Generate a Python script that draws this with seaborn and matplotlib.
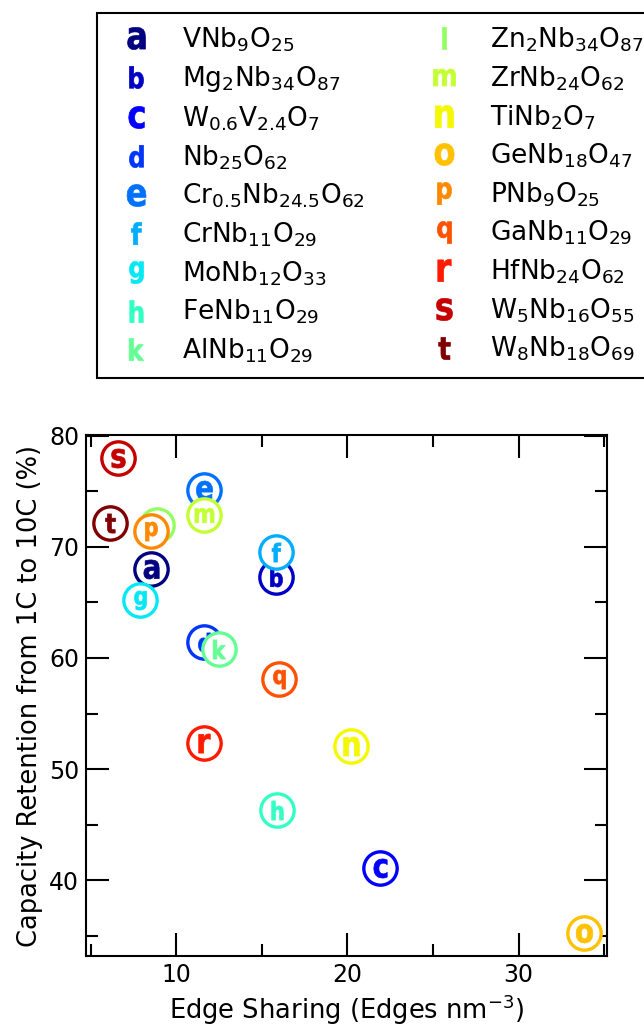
import matplotlib
matplotlib.use("Agg")
import matplotlib.pyplot as plt
from matplotlib.lines import Line2D
from matplotlib.path import Path
from matplotlib.ticker import MultipleLocator
from matplotlib.textpath import TextPath
from matplotlib.font_manager import FontProperties
from matplotlib.transforms import Affine2D
import numpy as np
import seaborn as sns

# Niobium-oxide based anode materials: edge sharing vs. rate capability
letters = ["a", "b", "c", "d", "e", "f", "g", "h", "k",
           "l", "m", "n", "o", "p", "q", "r", "s", "t"]
compounds = [
    r"VNb$_{9}$O$_{25}$",
    r"Mg$_{2}$Nb$_{34}$O$_{87}$",
    r"W$_{0.6}$V$_{2.4}$O$_{7}$",
    r"Nb$_{25}$O$_{62}$",
    r"Cr$_{0.5}$Nb$_{24.5}$O$_{62}$",
    r"CrNb$_{11}$O$_{29}$",
    r"MoNb$_{12}$O$_{33}$",
    r"FeNb$_{11}$O$_{29}$",
    r"AlNb$_{11}$O$_{29}$",
    r"Zn$_{2}$Nb$_{34}$O$_{87}$",
    r"ZrNb$_{24}$O$_{62}$",
    r"TiNb$_{2}$O$_{7}$",
    r"GeNb$_{18}$O$_{47}$",
    r"PNb$_{9}$O$_{25}$",
    r"GaNb$_{11}$O$_{29}$",
    r"HfNb$_{24}$O$_{62}$",
    r"W$_{5}$Nb$_{16}$O$_{55}$",
    r"W$_{8}$Nb$_{18}$O$_{69}$",
]
edge_sharing = [8.5, 15.8, 21.9, 11.6, 11.6, 15.8, 7.9, 15.9, 12.5,
                8.85, 11.6, 20.2, 33.8, 8.5, 16.0, 11.6, 6.6, 6.1]
capacity_retention = [68.0, 67.3, 41.1, 61.4, 75.1, 69.5, 65.2, 46.3, 60.8,
                      72.0, 72.9, 52.1, 35.3, 71.4, 58.1, 52.4, 78.0, 72.1]

sns.set_style("white")
plt.rcParams["font.family"] = ["DejaVu Sans"]
plt.rcParams["mathtext.default"] = "regular"
for key in ("text.color", "axes.labelcolor", "xtick.color", "ytick.color"):
    plt.rcParams[key] = "black"

colors = plt.cm.jet(np.linspace(0, 1, len(letters)))

bold = FontProperties(family="DejaVu Sans", weight="bold")


def letter_marker(ch, stretch=1.2):
    """Bold glyph outline as flat polygons, slightly condensed and centred."""
    tp = TextPath((0, 0), ch, size=1, prop=bold)
    polys = tp.to_polygons(closed_only=True)
    allv = np.vstack(polys)
    cx = (allv[:, 0].min() + allv[:, 0].max()) / 2
    cy = (allv[:, 1].min() + allv[:, 1].max()) / 2
    path = Path.make_compound_path(*[Path(p, closed=True) for p in polys])
    return path.transformed(Affine2D().translate(-cx, -cy).scale(1.0, stretch))


markers = {ch: letter_marker(ch) for ch in letters}

fig = plt.figure(figsize=(6.44, 10.26), dpi=100)
ax = fig.add_axes([0.1335, 0.0682, 0.809, 0.5078])

for i, (lt, xv, yv) in enumerate(zip(letters, edge_sharing, capacity_retention)):
    c = colors[i]
    sns.scatterplot(x=[xv], y=[yv], marker="o", s=576, color="white",
                    edgecolor=c, linewidth=2.4, ax=ax, zorder=3 + 2 * i,
                    legend=False)
    sns.scatterplot(x=[xv], y=[yv], marker=markers[lt], s=190,
                    color=c, edgecolor=c, linewidth=0.5, ax=ax,
                    zorder=4 + 2 * i, legend=False)

ax.set_xlim(4.72, 35.17)
ax.set_ylim(33.2, 80.05)
ax.xaxis.set_major_locator(MultipleLocator(10))
ax.xaxis.set_minor_locator(MultipleLocator(5))
ax.yaxis.set_major_locator(MultipleLocator(10))
ax.yaxis.set_minor_locator(MultipleLocator(5))
ax.tick_params(which="both", direction="in", top=True, right=True,
               bottom=True, left=True, width=1.5, colors="black",
               labelsize=17, pad=5)
ax.tick_params(which="major", length=16.5)
ax.tick_params(which="minor", length=8.6)
for sp in ax.spines.values():
    sp.set_color("black")
    sp.set_linewidth(1.5)

ax.set_xlabel(r"Edge Sharing (Edges nm$^{-3}$)", fontsize=18.5)
ax.set_ylabel("Capacity Retention from 1C to 10C (%)", fontsize=18.5)

handles = [Line2D([], [], linestyle="none", marker=markers[lt],
                  markersize=16, color=colors[i], markeredgewidth=0.5)
           for i, lt in enumerate(letters)]
leg = fig.legend(handles, compounds, ncol=2, loc="upper left",
                 bbox_to_anchor=(97 / 644, 0.9873), borderaxespad=0,
                 fontsize=19, frameon=True, fancybox=False, framealpha=1,
                 edgecolor="black", labelspacing=0.385, handletextpad=0.74,
                 columnspacing=2.0, borderpad=0.48, handlelength=2.0)
leg.get_frame().set_linewidth(1.5)

fig.savefig("out.png", dpi=100)
